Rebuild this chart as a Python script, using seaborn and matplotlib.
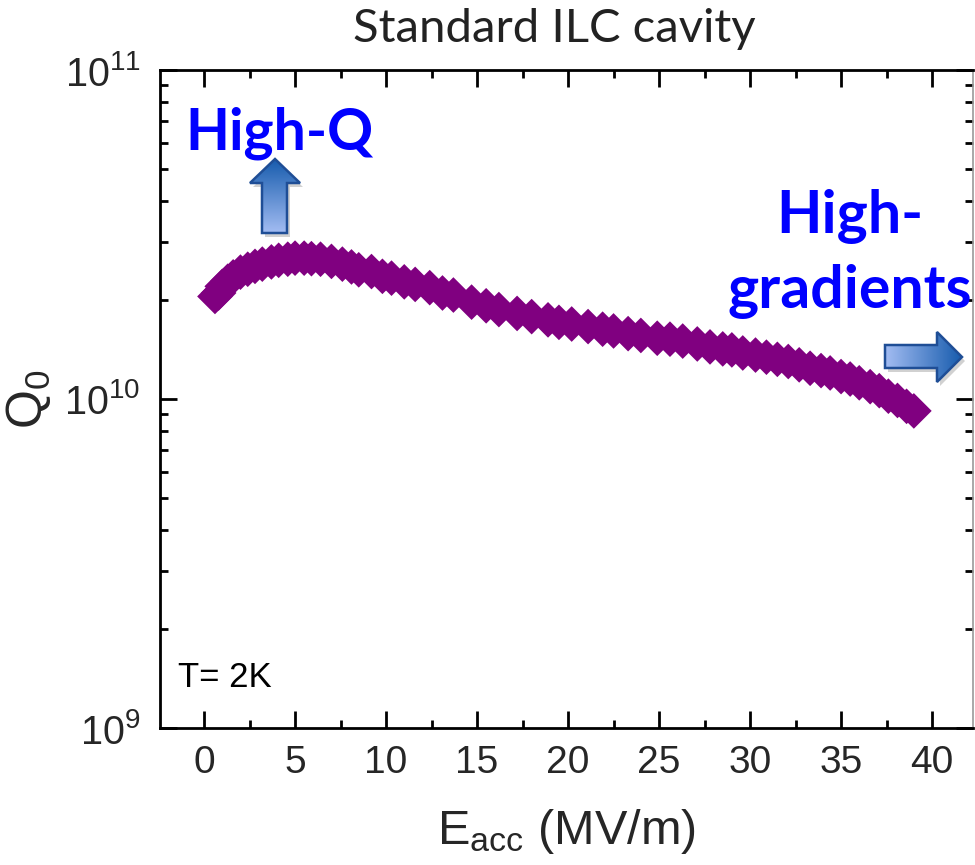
import numpy as np
import pandas as pd
import matplotlib
matplotlib.use("Agg")
import matplotlib.pyplot as plt
import seaborn as sns
from matplotlib.patches import Polygon
from matplotlib.ticker import LogLocator, MultipleLocator, NullFormatter

# Q0 vs accelerating gradient, standard ILC cavity at 2 K
e_acc = [0.6, 0.8, 1.0, 1.3, 1.6, 2.0, 2.4, 2.8, 3.2, 3.7, 4.1, 4.6, 5.0, 5.5,
         5.9, 6.4, 7.0, 7.6, 8.1, 8.5, 9.2, 9.8, 10.3, 11.0, 11.6, 12.4, 13.1,
         13.7, 14.7, 15.5, 16.2, 17.2, 18.0, 18.9, 19.5, 20.2, 21.1, 21.9, 22.5,
         23.3, 24.0, 24.9, 25.6, 26.3, 27.1, 27.8, 28.5, 29.0, 29.6, 30.3, 30.9,
         31.5, 32.1, 32.7, 33.3, 33.9, 34.4, 35.0, 35.5, 36.0, 36.6, 37.1, 37.6,
         38.1, 38.6, 39.0]
q0_e10 = [2.05, 2.10, 2.20, 2.28, 2.35, 2.43, 2.48, 2.53, 2.57, 2.61, 2.64, 2.66,
          2.68, 2.68, 2.67, 2.66, 2.62, 2.57, 2.52, 2.47, 2.44, 2.36, 2.33, 2.27,
          2.23, 2.18, 2.10, 2.07, 1.97, 1.92, 1.87, 1.82, 1.78, 1.74, 1.71, 1.69,
          1.66, 1.63, 1.61, 1.58, 1.56, 1.53, 1.52, 1.50, 1.47, 1.44, 1.42, 1.41,
          1.38, 1.36, 1.34, 1.32, 1.30, 1.27, 1.24, 1.22, 1.20, 1.17, 1.15, 1.12,
          1.09, 1.06, 1.02, 0.99, 0.95, 0.92]
x_ticks = [0, 5, 10, 15, 20, 25, 30, 35, 40]
y_ticks = [1e9, 1e10, 1e11]
y_tick_labels = [r"$10^{9}$", r"$10^{10}$", r"$10^{11}$"]

df = pd.DataFrame({"E_acc": e_acc, "Q0": np.array(q0_e10) * 1e10})

sns.set_theme(style="ticks")
plt.rcParams["font.family"] = ["Liberation Sans", "DejaVu Sans"]
plt.rcParams["mathtext.fontset"] = "custom"
plt.rcParams["mathtext.rm"] = "Liberation Sans"
plt.rcParams["mathtext.it"] = "Liberation Sans"
plt.rcParams["mathtext.bf"] = "Liberation Sans:bold"

fig = plt.figure(figsize=(9.75, 8.65), dpi=100)
ax = fig.add_axes([160 / 975, 1 - 728 / 865, 813 / 975, 658 / 865])

sns.scatterplot(data=df, x="E_acc", y="Q0", marker="D", s=330,
                color="#800080", edgecolor="none", linewidth=0, ax=ax,
                legend=False, zorder=3)

ax.set_yscale("log")
ax.set_xlim(-2.42, 42.25)
ax.set_ylim(1e9, 1e11)
ax.set_xticks(x_ticks)
ax.set_xticklabels([str(t) for t in x_ticks])
ax.xaxis.set_minor_locator(MultipleLocator(2.5))
ax.set_yticks(y_ticks)
ax.set_yticklabels(y_tick_labels)
ax.yaxis.set_minor_locator(LogLocator(base=10, subs=np.arange(2, 10)))
ax.yaxis.set_minor_formatter(NullFormatter())

ax.tick_params(which="both", direction="in", top=True, right=True,
               color="black")
ax.tick_params(which="major", length=12, width=2, pad=12)
ax.tick_params(which="minor", length=6, width=2)
ax.tick_params(axis="x", which="major", labelsize=28)
ax.tick_params(axis="y", which="major", labelsize=28.5, pad=14)

for side in ["left", "bottom", "top"]:
    ax.spines[side].set_linewidth(2)
    ax.spines[side].set_color("black")
ax.spines["right"].set_linewidth(1.2)
ax.spines["right"].set_color("#999999")

ax.set_xlabel(r"E$_{\mathregular{acc}}$ (MV/m)", fontsize=35, labelpad=19)
ax.set_ylabel(r"Q$_{\mathregular{0}}$", fontsize=36)
ax.yaxis.set_label_coords(-0.132, 0.5)

# Overlay in pixel coordinates for title, callouts and arrows
ov = fig.add_axes([0, 0, 1, 1], zorder=5)
ov.set_xlim(0, 975)
ov.set_ylim(865, 0)
ov.axis("off")
ov.patch.set_alpha(0)

ov.text(178, 687, "T= 2K", fontsize=25, color="black",
        ha="left", va="baseline")
ov.text(554, 42, "Standard ILC cavity", fontsize=34, family="Lato",
        color="#222222", ha="center", va="baseline")
ov.text(185, 150, "High-Q", fontsize=41, family="Lato", weight="bold",
        color="#0000FF", ha="left", va="baseline")
ov.text(850, 233, "High-", fontsize=42.5, family="Lato", weight="bold",
        color="#0000FF", ha="center", va="baseline")
ov.text(850, 308, "gradients", fontsize=42.5, family="Lato", weight="bold",
        color="#0000FF", ha="center", va="baseline")


def gradient_arrow(verts, direction):
    verts = np.array(verts, dtype=float)
    shadow = Polygon(verts + [3, 4], closed=True, facecolor="#000000",
                     alpha=0.18, edgecolor="none")
    ov.add_patch(shadow)
    x0, x1 = verts[:, 0].min(), verts[:, 0].max()
    y0, y1 = verts[:, 1].min(), verts[:, 1].max()
    t = np.linspace(0, 1, 256)
    dark = np.array([0.09, 0.36, 0.68])
    light = np.array([0.64, 0.74, 0.95])
    if direction == "up":
        cols = dark[None, :] * (1 - t[:, None]) + light[None, :] * t[:, None]
        img = cols[:, None, :].repeat(4, axis=1)
    else:
        cols = light[None, :] * (1 - t[:, None]) + dark[None, :] * t[:, None]
        img = cols[None, :, :].repeat(4, axis=0)
    im = ov.imshow(img, extent=(x0, x1, y1, y0), aspect="auto",
                   interpolation="bilinear", zorder=6)
    patch = Polygon(verts, closed=True, facecolor="none",
                    edgecolor="#1F4E96", linewidth=1.8, zorder=7)
    ov.add_patch(patch)
    im.set_clip_path(patch)


gradient_arrow([(262, 233), (287, 233), (287, 183), (300, 183), (275, 159),
                (250, 183), (262, 183)], "up")
gradient_arrow([(885, 345), (937, 345), (937, 332), (962, 357), (937, 382),
                (937, 368), (885, 368)], "right")
ov.set_xlim(0, 975)
ov.set_ylim(865, 0)

fig.savefig("out.png", dpi=100)
